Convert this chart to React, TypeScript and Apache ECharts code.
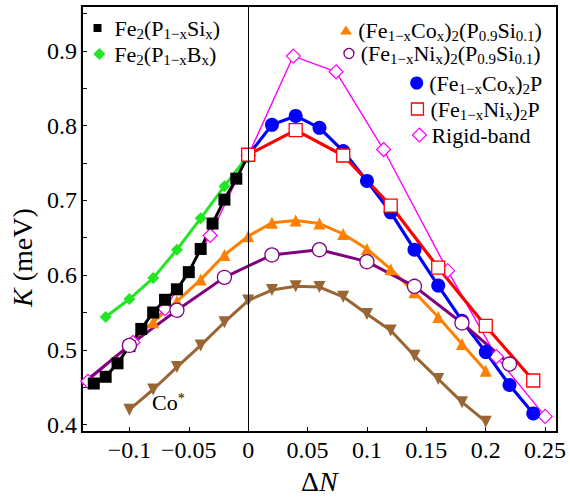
import React, { useEffect, useRef } from 'react';
import * as echarts from 'echarts';

// Axis ticks / labels
const xTicks = [-0.1, -0.05, 0, 0.05, 0.1, 0.15, 0.2, 0.25];
const yTicks = [0.4, 0.45, 0.5, 0.55, 0.6, 0.65, 0.7, 0.75, 0.8, 0.85, 0.9, 0.95];
const yLabels = [0.4, 0.5, 0.6, 0.7, 0.8, 0.9];

// Series names (plain) and their rich-text legend forms
const seriesNames = [
  'Fe2(P1-xSix)',
  'Fe2(P1-xBx)',
  '(Fe1-xCox)2(P0.9Si0.1)',
  '(Fe1-xNix)2(P0.9Si0.1)',
  '(Fe1-xCox)2P',
  '(Fe1-xNix)2P',
  'Rigid-band',
  'Co*',
];
const richNames = [
  'Fe{s|2}(P{s|1−x}Si{s|x})',
  'Fe{s|2}(P{s|1−x}B{s|x})',
  '(Fe{s|1−x}Co{s|x}){s|2}(P{s|0.9}Si{s|0.1})',
  '(Fe{s|1−x}Ni{s|x}){s|2}(P{s|0.9}Si{s|0.1})',
  '(Fe{s|1−x}Co{s|x}){s|2}P',
  '(Fe{s|1−x}Ni{s|x}){s|2}P',
  'Rigid-band',
  'Co{sup|*}',
];

// Data (ΔN, K in meV)
const siDN = [-0.13, -0.12, -0.11, -0.10, -0.09, -0.08, -0.07, -0.06, -0.05, -0.04, -0.03, -0.02, -0.01, 0];
const siK = [0.455, 0.464, 0.482, 0.505, 0.528, 0.550, 0.567, 0.581, 0.604, 0.635, 0.669, 0.701, 0.729, 0.760];

const bDN = [-0.12, -0.10, -0.08, -0.06, -0.04, -0.02, 0];
const bK = [0.544, 0.568, 0.596, 0.634, 0.676, 0.719, 0.760];

const coSiDN = [-0.10, -0.08, -0.06, -0.04, -0.02, 0, 0.02, 0.04, 0.06, 0.08, 0.10, 0.12, 0.14, 0.16, 0.18, 0.20];
const coSiK = [0.510, 0.537, 0.565, 0.594, 0.627, 0.652, 0.670, 0.673, 0.669, 0.655, 0.635, 0.608, 0.577, 0.544, 0.508, 0.472];

const niSiDN = [-0.14, -0.10, -0.06, -0.02, 0.02, 0.06, 0.10, 0.14, 0.18, 0.22];
const niSiK = [0.454, 0.506, 0.553, 0.597, 0.627, 0.634, 0.618, 0.585, 0.536, 0.481];

const coDN = [0, 0.02, 0.04, 0.06, 0.08, 0.10, 0.12, 0.14, 0.16, 0.18, 0.20, 0.22, 0.24];
const coK = [0.760, 0.801, 0.813, 0.797, 0.766, 0.726, 0.684, 0.634, 0.586, 0.539, 0.497, 0.453, 0.415];

const niDN = [0, 0.04, 0.08, 0.12, 0.16, 0.20, 0.24];
const niK = [0.761, 0.794, 0.760, 0.693, 0.610, 0.532, 0.459];

const rigidDN = [-0.135, -0.097, -0.070, -0.032, 0, 0.038, 0.074, 0.114, 0.168, 0.209, 0.250];
const rigidK = [0.458, 0.510, 0.555, 0.653, 0.760, 0.893, 0.872, 0.768, 0.606, 0.491, 0.411];

const coStarDN = [-0.10, -0.08, -0.06, -0.04, -0.02, 0, 0.02, 0.04, 0.06, 0.08, 0.10, 0.12, 0.14, 0.16, 0.18, 0.20];
const coStarK = [0.420, 0.447, 0.477, 0.506, 0.537, 0.566, 0.580, 0.585, 0.584, 0.571, 0.548, 0.526, 0.492, 0.461, 0.430, 0.404];

const FONT = "'Liberation Serif', 'Times New Roman', serif";
const zip = (xs: number[], ys: number[]) => xs.map((x, i) => [x, ys[i]]);

const SQ = 'path://M0,0L10,0L10,10L0,10Z';
const DIA = 'path://M5,0L10,5L5,10L0,5Z';
const TRI = 'path://M6,0L12,9L0,9Z';
const CIR = 'circle';

export default function App() {
  const ref = useRef<HTMLDivElement>(null);
  useEffect(() => {
    if (!ref.current) return;
    const chart = echarts.init(ref.current, undefined, { renderer: 'svg' });

    const rich = {
      s: { fontFamily: FONT, fontSize: 15, lineHeight: 16, verticalAlign: 'bottom', color: '#000' },
    };
    const fmt = (name: string) => richNames[seriesNames.indexOf(name)] || name;
    const mkLegend = (
      idx: number,
      icon: string,
      left: number,
      centerY: number,
      w: number,
      h: number,
      pad: number,
      itemStyle: any
    ) => ({
      show: true,
      orient: 'vertical',
      left,
      top: centerY - 13,
      padding: 0,
      itemGap: 0,
      itemWidth: w,
      itemHeight: h,
      symbolKeepAspect: true,
      selectedMode: false,
      textStyle: {
        fontFamily: FONT,
        fontSize: 22,
        lineHeight: 26,
        color: '#000',
        padding: [0, 0, 0, pad],
        rich,
      },
      formatter: fmt,
      data: [{ name: seriesNames[idx], icon, itemStyle }],
    });

    const option: any = {
      animation: false,
      backgroundColor: '#fff',
      grid: {
        left: 81,
        right: 13,
        top: 6,
        bottom: 67,
        show: true,
        borderColor: '#000',
        borderWidth: 2,
        backgroundColor: 'transparent',
      },
      xAxis: {
        type: 'value',
        min: -0.14,
        max: 0.26,
        name: 'Δ{i|N}',
        nameLocation: 'middle',
        nameGap: 31,
        nameTextStyle: {
          fontFamily: FONT,
          fontSize: 28,
          color: '#000',
          rich: { i: { fontFamily: FONT, fontSize: 28, fontStyle: 'italic', color: '#000' } },
        },
        axisLine: { show: true, onZero: false, lineStyle: { color: '#000', width: 2 } },
        axisTick: { show: true, inside: true, length: 5, customValues: xTicks, lineStyle: { color: '#000', width: 1 } },
        axisLabel: {
          show: true,
          customValues: xTicks,
          margin: 6,
          fontFamily: FONT,
          fontSize: 24,
          color: '#000',
          formatter: (v: number) => String(Number(v.toFixed(2))).replace('-', '−'),
        },
        splitLine: { show: false },
      },
      yAxis: {
        type: 'value',
        min: 0.39,
        max: 0.96,
        name: '{i|K} (meV)',
        nameLocation: 'middle',
        nameGap: 41,
        nameTextStyle: {
          fontFamily: FONT,
          fontSize: 28,
          color: '#000',
          padding: [0, 77, 0, 0],
          rich: { i: { fontFamily: FONT, fontSize: 28, fontStyle: 'italic', color: '#000' } },
        },
        axisLine: { show: true, onZero: false, lineStyle: { color: '#000', width: 2 } },
        axisTick: { show: true, inside: true, length: 5, customValues: yTicks, lineStyle: { color: '#000', width: 1 } },
        axisLabel: {
          show: true,
          customValues: yLabels,
          margin: 5,
          fontFamily: FONT,
          fontSize: 24,
          color: '#000',
          formatter: (v: number) => v.toFixed(1),
        },
        splitLine: { show: false },
      },
      legend: [
        mkLegend(0, SQ, 93.5, 28, 8, 8, 8, { color: '#000', borderWidth: 0 }),
        mkLegend(1, DIA, 93.3, 54, 12, 12, 4, { color: '#22e622', borderWidth: 0 }),
        mkLegend(2, TRI, 340, 30, 12, 9, 1.3, { color: '#ff8000', borderWidth: 0 }),
        mkLegend(3, CIR, 343.3, 53.5, 10, 10, 1.7, { color: '#fff', borderColor: '#800080', borderWidth: 1.3 }),
        mkLegend(4, CIR, 410.2, 83, 13, 13, 1, { color: '#0000ff', borderWidth: 0 }),
        mkLegend(5, SQ, 410.8, 109, 12, 12, 2, { color: '#fff', borderColor: '#ff0000', borderWidth: 1.3 }),
        mkLegend(6, DIA, 411.8, 135, 14, 14, 0, { color: '#fff', borderColor: '#ff00ff', borderWidth: 1.2 }),
      ],
      graphic: [
        {
          type: 'text',
          left: 152,
          top: 391,
          silent: true,
          style: {
            text: richNames[7],
            fontFamily: FONT,
            fontSize: 22,
            lineHeight: 22,
            fill: '#000',
            rich: { sup: { fontFamily: FONT, fontSize: 14, lineHeight: 12, verticalAlign: 'top', fill: '#000' } },
          },
        },
      ],
      series: [
        {
          name: seriesNames[6],
          type: 'line',
          data: zip(rigidDN, rigidK),
          symbol: 'diamond',
          symbolSize: 14,
          itemStyle: { color: '#fff', borderColor: '#ff00ff', borderWidth: 1.2 },
          lineStyle: { color: '#ff00ff', width: 1.4 },
          emphasis: { disabled: true },
          markLine: {
            silent: true,
            symbol: ['none', 'none'],
            label: { show: false },
            lineStyle: { color: '#000', width: 1, type: 'solid' },
            emphasis: { disabled: true },
            data: [{ xAxis: 0 }],
          },
        },
        {
          name: seriesNames[7],
          type: 'line',
          data: zip(coStarDN, coStarK),
          symbol: 'triangle',
          symbolRotate: 180,
          symbolSize: 12,
          itemStyle: { color: '#996633' },
          lineStyle: { color: '#996633', width: 3 },
          emphasis: { disabled: true },
        },
        {
          name: seriesNames[2],
          type: 'line',
          data: zip(coSiDN, coSiK),
          symbol: 'triangle',
          symbolSize: 12,
          itemStyle: { color: '#ff8000' },
          lineStyle: { color: '#ff8000', width: 3 },
          emphasis: { disabled: true },
        },
        {
          name: seriesNames[4],
          type: 'line',
          data: zip(coDN, coK),
          symbol: 'circle',
          symbolSize: 14,
          itemStyle: { color: '#0000ff' },
          lineStyle: { color: '#0000ff', width: 3.2 },
          emphasis: { disabled: true },
        },
        {
          name: seriesNames[1],
          type: 'line',
          data: zip(bDN, bK),
          symbol: 'diamond',
          symbolSize: 12,
          itemStyle: { color: '#22e622' },
          lineStyle: { color: '#22e622', width: 3 },
          emphasis: { disabled: true },
        },
        {
          name: seriesNames[0],
          type: 'line',
          data: zip(siDN, siK),
          symbol: 'rect',
          symbolSize: 12,
          itemStyle: { color: '#000' },
          lineStyle: { color: '#000', width: 3 },
          emphasis: { disabled: true },
        },
        {
          name: seriesNames[3],
          type: 'line',
          data: zip(niSiDN, niSiK).map((v, i) => (i === 0 ? { value: v, symbol: 'none' } : v)),
          symbol: 'circle',
          symbolSize: 14,
          itemStyle: { color: '#fff', borderColor: '#800080', borderWidth: 1.3 },
          lineStyle: { color: '#800080', width: 3 },
          emphasis: { disabled: true },
        },
        {
          name: seriesNames[5],
          type: 'line',
          data: zip(niDN, niK),
          symbol: 'rect',
          symbolSize: 13,
          itemStyle: { color: '#fff', borderColor: '#ff0000', borderWidth: 1.3 },
          lineStyle: { color: '#ff0000', width: 3.2 },
          emphasis: { disabled: true },
        },
      ],
    };
    chart.setOption(option);
    return () => chart.dispose();
  }, []);
  return (
    <div
      ref={ref}
      style={{ position: 'absolute', left: 0, top: 0, width: 570, height: 500, background: '#fff' }}
    />
  );
}
